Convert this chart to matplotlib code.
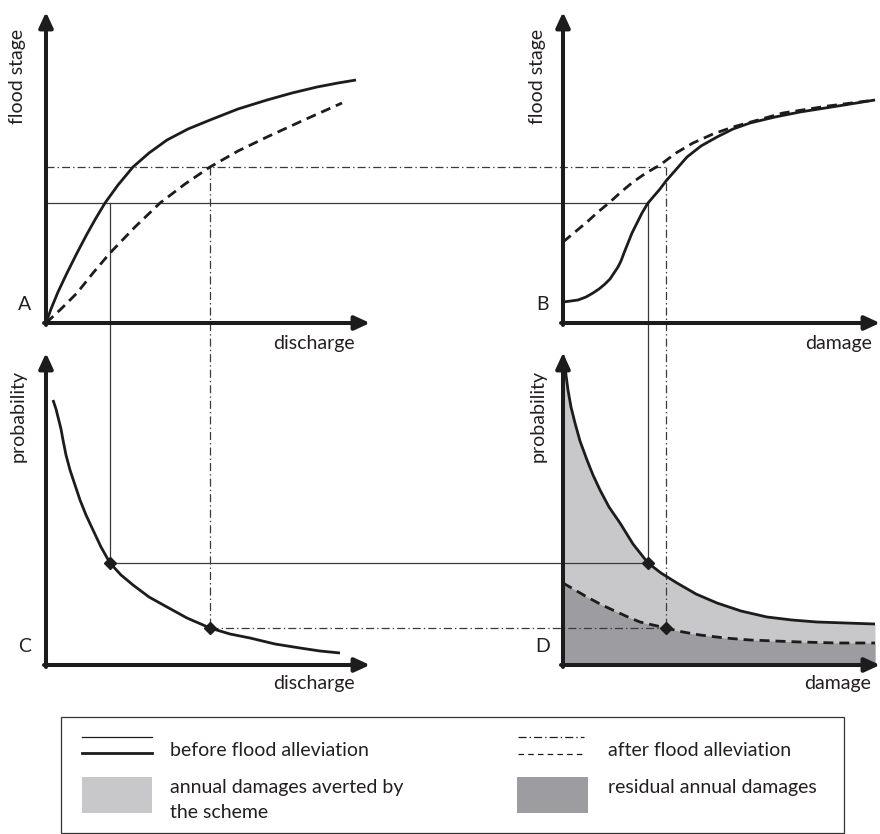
import matplotlib.pyplot as plt
from matplotlib.patches import Rectangle

plt.rcParams['font.family'] = ['Lato', 'DejaVu Sans']
plt.rcParams['lines.scale_dashes'] = False

# panel origins (x, y) in figure pixels; y grows downwards
OA = (46, 323)
OB = (563, 323)
OC = (46, 665)
OD = (563, 665)

# A: flood stage vs discharge
a_q_before = [0, 5, 12, 21, 31, 41, 50, 59, 72, 87, 103, 121, 142, 164, 192, 221, 246, 271, 292, 310]
a_h_before = [0, 14, 31, 50, 70, 89, 105, 120, 138, 156, 170, 183, 194, 203, 214, 223, 230, 236, 240, 243]
a_q_after = [0, 15, 31, 47, 64, 89, 114, 139, 164, 192, 221, 258, 296]
a_h_after = [0, 14, 30, 50, 70, 96, 120, 139, 156, 172, 186, 203, 220]

# B: flood stage vs damage
b_d_before = [0, 8, 15, 23, 30, 36, 42, 47, 51, 55, 58, 61, 65, 69, 74, 79, 85, 91, 97,
              103, 110, 117, 124, 138, 154, 170, 187, 212, 237, 275, 312]
b_h_before = [21, 22, 23, 26, 30, 34, 39, 44, 50, 56, 62, 70, 80, 90, 100, 110, 120, 127, 134,
              142, 150, 158, 166, 177, 186, 194, 200, 206, 211, 217, 223]
b_d_after = [0, 12, 24, 35, 47, 58, 70, 83, 97, 113, 130, 150, 170, 195, 220, 265, 312]
b_h_after = [81, 91, 101, 111, 121, 131, 141, 150, 158, 170, 180, 189, 196, 203, 210, 217, 223]

# C: probability vs discharge
c_q = [7, 10, 12, 15, 17, 20, 24, 29, 34, 40, 47, 55, 64, 75, 87, 103, 121, 141, 164, 184,
       204, 229, 254, 274, 294]
c_p = [265, 256, 248, 236, 225, 210, 195, 180, 165, 150, 135, 118, 102, 90, 80, 68, 58, 47, 37,
       31, 27, 21, 17, 14, 12]

# D: probability vs damage
d_d_before = [0, 2, 3, 5, 8, 12, 17, 24, 30, 37, 46, 57, 70, 85, 98, 114, 133, 154, 178, 204,
              229, 254, 283, 312]
d_p_before = [310, 302, 290, 275, 258, 242, 224, 205, 190, 175, 158, 142, 121, 102, 92, 82, 71,
              62, 54, 48, 45, 43, 42, 41]
d_d_after = [0, 12, 24, 39, 54, 65, 77, 90, 103, 120, 137, 162, 187, 212, 237, 275, 312]
d_p_after = [82, 75, 68, 60, 53, 48, 43, 40, 37, 33, 30, 27, 25, 24, 23, 22, 22]

# read-across levels: before (1) and after (2) alleviation
q1, q2 = 64, 164
h1, h2 = 120, 156
d1, d2 = 85, 103
p1, p2 = 102, 37

INK = '#1c1c1c'
GUIDE = '#3a3a3a'
LIGHT = '#c8c8ca'
DARK = '#9d9da1'
DASH = (0, (7.2, 4.3))
DASHDOT = (0, (5.8, 2.2, 1.0, 2.2))
FS = 14


def px(origin, xs, ys):
    return [origin[0] + x for x in xs], [origin[1] - y for y in ys]


fig = plt.figure(figsize=(8.8, 8.34), dpi=100)
ax = fig.add_axes([0, 0, 1, 1])
ax.set_xlim(0, 880)
ax.set_ylim(834, 0)
ax.axis('off')

# shaded areas under the damage-probability curves
x, y = px(OD, d_d_before, d_p_before)
ax.fill_between(x, y, OD[1], color=LIGHT, lw=0, zorder=1)
x, y = px(OD, d_d_after, d_p_after)
ax.fill_between(x, y, OD[1], color=DARK, lw=0, zorder=1)

# guide lines linking the panels
glw = 0.9
ax.plot([OA[0], OB[0] + d1], [OA[1] - h1] * 2, color=GUIDE, lw=glw, zorder=2)
ax.plot([OA[0] + q1] * 2, [OA[1] - h1, OC[1] - p1], color=GUIDE, lw=glw, zorder=2)
ax.plot([OC[0] + q1, OD[0] + d1], [OC[1] - p1] * 2, color=GUIDE, lw=glw, zorder=2)
ax.plot([OB[0] + d1] * 2, [OB[1] - h1, OD[1] - p1], color=GUIDE, lw=glw, zorder=2)

ax.plot([OA[0], OB[0] + d2], [OA[1] - h2] * 2, color=GUIDE, lw=glw, ls=DASHDOT, zorder=2)
ax.plot([OA[0] + q2] * 2, [OA[1] - h2, OC[1] - p2], color=GUIDE, lw=glw, ls=DASHDOT, zorder=2)
ax.plot([OC[0] + q2, OD[0] + d2], [OC[1] - p2] * 2, color=GUIDE, lw=glw, ls=DASHDOT, zorder=2)
ax.plot([OB[0] + d2] * 2, [OB[1] - h2, OD[1] - p2], color=GUIDE, lw=glw, ls=DASHDOT, zorder=2)

# curves
clw = 2.0
kw = dict(color=INK, lw=clw, zorder=3, solid_joinstyle='round', solid_capstyle='butt')
ax.plot(*px(OA, a_q_before, a_h_before), **kw)
ax.plot(*px(OA, a_q_after, a_h_after), ls=DASH, **kw)
ax.plot(*px(OB, b_d_before, b_h_before), **kw)
ax.plot(*px(OB, b_d_after, b_h_after), ls=DASH, **kw)
ax.plot(*px(OC, c_q, c_p), **kw)
ax.plot(*px(OD, d_d_before, d_p_before), **kw)
ax.plot(*px(OD, d_d_after, d_p_after), ls=DASH, **kw)

# read-off points
ax.plot(*px(OC, [q1, q2], [p1, p2]), ls='none', marker='D', ms=6, color=INK, zorder=5)
ax.plot(*px(OD, [d1, d2], [p1, p2]), ls='none', marker='D', ms=6, color=INK, zorder=5)

# axes with arrow heads
arrow = dict(arrowstyle='-|>,head_length=0.65,head_width=0.3', lw=2.9, color=INK,
             shrinkA=0, shrinkB=0, mutation_scale=14)
for (ox, oy), top, right in [(OA, 12, 370), (OB, 12, 880), (OC, 353, 370), (OD, 353, 880)]:
    ax.annotate('', xy=(ox, top), xytext=(ox, oy + 2), arrowprops=arrow, zorder=4)
    ax.annotate('', xy=(right, oy), xytext=(ox - 2, oy), arrowprops=arrow, zorder=4)

# panel texts
tkw = dict(fontsize=FS, color='#231f20', ha='center', va='center')
ax.text(18, 76, 'flood stage', rotation=90, **tkw)
ax.text(537, 76, 'flood stage', rotation=90, **tkw)
ax.text(18, 416, 'probability', rotation=90, **tkw)
ax.text(538, 416, 'probability', rotation=90, **tkw)
ax.text(25, 305, 'A', **tkw)
ax.text(543, 305, 'B', **tkw)
ax.text(25, 647, 'C', **tkw)
ax.text(543, 647, 'D', **tkw)
ax.text(314, 343, 'discharge', **tkw)
ax.text(839, 343, 'damage', **tkw)
ax.text(314, 683, 'discharge', **tkw)
ax.text(838, 683, 'damage', **tkw)

# legend
ax.add_patch(Rectangle((61, 717), 783, 116, fill=False, ec='#333333', lw=0.9, zorder=2))
ax.plot([82, 152], [737, 737], color=INK, lw=0.9)
ax.plot([82, 152], [753, 753], color=INK, lw=2.0)
ax.add_patch(Rectangle((82, 777), 70, 36, color=LIGHT, lw=0))
ax.plot([518, 584], [737, 737], color=INK, lw=0.9, ls=DASHDOT)
ax.plot([518, 584], [754, 754], color=INK, lw=0.9, ls=(0, (4, 3)))
ax.add_patch(Rectangle((517, 777), 71, 36, color=DARK, lw=0))

lkw = dict(fontsize=FS, color='#231f20', ha='left', va='center')
ax.text(170, 750, 'before flood alleviation', **lkw)
ax.text(170, 787, 'annual damages averted by', **lkw)
ax.text(170, 813, 'the scheme', **lkw)
ax.text(608, 750, 'after flood alleviation', **lkw)
ax.text(608, 787, 'residual annual damages', **lkw)

fig.savefig('out.png', dpi=100)
